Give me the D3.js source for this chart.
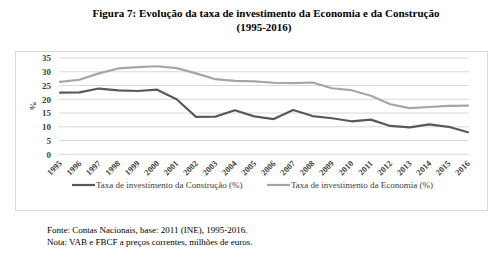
<!DOCTYPE html>
<html><head><meta charset="utf-8">
<script src="https://cdn.jsdelivr.net/npm/d3@7"></script>
<style>body{margin:0;background:#fff}svg{display:block}</style>
</head><body>
<svg id="c" width="500" height="255"></svg>
<script>
const years = ["1995","1996","1997","1998","1999","2000","2001","2002","2003","2004","2005","2006","2007","2008","2009","2010","2011","2012","2013","2014","2015","2016"];
const construcao = [22.4,22.5,23.9,23.2,23.0,23.5,20.0,13.6,13.7,16.0,13.8,12.8,16.1,13.9,13.1,12.0,12.6,10.3,9.8,10.9,10.0,8.0];
const economia = [26.3,27.1,29.4,31.2,31.7,32.0,31.3,29.4,27.3,26.7,26.5,26.0,25.9,26.1,24.0,23.3,21.3,18.2,16.8,17.2,17.6,17.7];
const yTicks = [0,5,10,15,20,25,30,35];
const seriesNames = ["Taxa de investimento da Construção (%)","Taxa de investimento da Economia (%)"];
const colors = ["#595959","#a6a6a6"];

const svg = d3.select("#c");
const serif = "'Liberation Serif','Times New Roman',serif";

// title
svg.append("text").attr("x",266).attr("y",17).attr("text-anchor","middle")
  .attr("font-family",serif).attr("font-weight","bold").attr("font-size",11)
  .text("Figura 7: Evolução da taxa de investimento da Economia e da Construção");
svg.append("text").attr("x",264).attr("y",31).attr("text-anchor","middle")
  .attr("font-family",serif).attr("font-weight","bold").attr("font-size",11)
  .text("(1995-2016)");

// frame
svg.append("rect").attr("x",15.5).attr("y",51.5).attr("width",472).attr("height",159)
  .attr("fill","none").attr("stroke","#d9d9d9").attr("stroke-width",1);

const x = d3.scalePoint().domain(years).range([60,468]);
const y = d3.scaleLinear().domain([0,35]).range([154.3,58]);

// gridlines
svg.append("g").selectAll("line").data(yTicks).join("line")
  .attr("x1",59).attr("x2",469).attr("y1",d=>y(d)).attr("y2",d=>y(d))
  .attr("stroke","#d9d9d9").attr("stroke-width",1);

// y axis labels
const yAxis = d3.axisLeft(y).tickValues(yTicks).tickSize(0).tickPadding(0);
const gy = svg.append("g").attr("transform","translate(51,0)").call(yAxis);
gy.select(".domain").remove();
gy.selectAll("text").attr("font-family",serif).attr("font-size",9).attr("fill","#404040").attr("font-weight","bold");

svg.append("text").attr("transform","translate(36,106) rotate(-90)").attr("text-anchor","middle")
  .attr("font-family",serif).attr("font-size",9).attr("font-weight","bold").attr("fill","#404040").text("%");

// x axis labels
const xAxis = d3.axisBottom(x).tickSize(0).tickPadding(0);
const gx = svg.append("g").attr("transform","translate(0,158)").call(xAxis);
gx.select(".domain").remove();
gx.selectAll("text").attr("font-family",serif).attr("font-size",8.5).attr("font-weight","bold").attr("fill","#404040")
  .attr("text-anchor","end").attr("dy","0").attr("transform","translate(2,6) rotate(-45)");

// lines
const line = d3.line().x((d,i)=>x(years[i])).y(d=>y(d));
[construcao,economia].forEach((s,k)=>{
  svg.append("path").datum(s).attr("d",line).attr("fill","none")
    .attr("stroke",colors[k]).attr("stroke-width",2.2).attr("stroke-linejoin","round").attr("stroke-linecap","round");
});

// legend
const legX = [72,267];
seriesNames.forEach((n,k)=>{
  svg.append("line").attr("x1",legX[k]).attr("x2",legX[k]+23).attr("y1",185).attr("y2",185)
    .attr("stroke",colors[k]).attr("stroke-width",2.2);
  svg.append("text").attr("x",legX[k]+24).attr("y",188).attr("font-family",serif).attr("font-size",9)
    .attr("fill","#404040").text(n);
});

// footer
svg.append("text").attr("x",47).attr("y",233).attr("font-family",serif).attr("font-size",9).attr("fill","#000")
  .text("Fonte: Contas Nacionais, base: 2011 (INE), 1995-2016.");
svg.append("text").attr("x",47).attr("y",245).attr("font-family",serif).attr("font-size",9).attr("fill","#000")
  .text("Nota: VAB e FBCF a preços correntes, milhões de euros.");
</script>
</body></html>
